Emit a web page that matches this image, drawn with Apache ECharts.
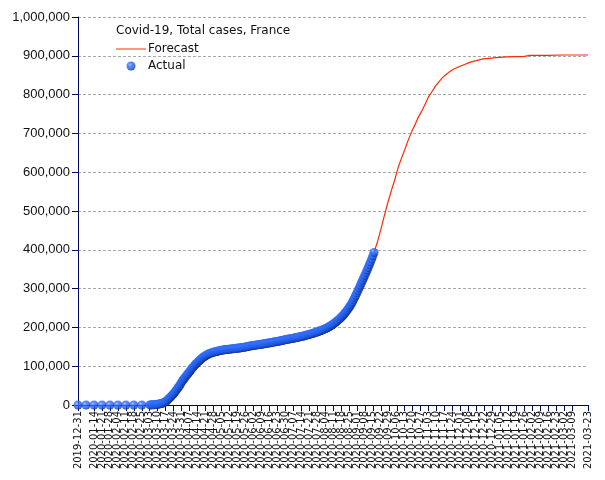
<!DOCTYPE html>
<html><head><meta charset="utf-8">
<script src="https://cdn.jsdelivr.net/npm/echarts@6/dist/echarts.min.js"></script>
<style>html,body{margin:0;padding:0;background:#fff}#c{width:605px;height:480px}</style>
</head><body><div id="c"></div>
<script>
var axisStart = '2019-12-31';
var axisEnd = '2021-03-23';
var yTicks = [0, 100000, 200000, 300000, 400000, 500000, 600000, 700000, 800000, 900000, 1000000];
var titleText = 'Covid-19, Total cases, France';
var seriesNames = ['Forecast', 'Actual'];

var earlyActualDates = ['2019-12-31','2020-01-07','2020-01-14','2020-01-21','2020-01-28','2020-02-04','2020-02-11','2020-02-18','2020-02-25'];
var earlyActualValues = [0,0,0,0,0,0,0,0,0];

var dailyActualStart = '2020-03-03';
var dailyActualValues = [
 200,300,400,600,900,1100,1400,1800,2300,3000,3700,4500,5400,7000,9000,11000,14000,17000,20000,23000,26000,29000,33000,37000,41000,45000,49000,54000,59000,
 63000,67000,71000,75000,79000,82000,86000,90000,94000,97000,101000,104000,107000,110000,113000,116000,118000,121000,123000,125000,127000,129000,130500,132000,133000,134000,135000,136000,137000,137500,
 138000,139000,140000,140500,141000,141500,142000,142500,143000,143300,143600,144000,144300,144600,145000,145300,145600,146000,146300,146600,147000,147500,148000,148400,148800,149300,150000,150500,151000,152000,152500,
 153000,153400,153800,154200,154800,155300,155700,156100,156500,157000,157500,158000,158500,159000,159500,160000,160500,161000,161600,162200,162700,163200,163800,164400,165000,165600,166200,166800,167400,168000,
 168600,169200,169800,170400,171000,171500,172100,172700,173300,173900,174500,175100,175700,176300,177000,177800,178600,179400,180200,181000,181800,182600,183500,184400,185300,186200,187200,188200,189300,190400,191500,
 192600,193800,195000,196300,197700,199200,200800,202500,204300,206200,208200,210300,212500,214900,217400,220000,222700,225600,228600,231800,235200,238800,242600,246600,250800,255200,260000,265400,271000,276800,282800,
 289000,295500,302000,308500,315000,321500,328000,334500,341000,348000,355000,362000,369000,376500,384500,393000
];

var forecastDates = ['2020-09-16','2020-09-19','2020-09-22','2020-09-25','2020-09-28','2020-10-01','2020-10-04','2020-10-07','2020-10-10','2020-10-13','2020-10-16','2020-10-19','2020-10-22','2020-10-25','2020-10-28','2020-10-31','2020-11-03','2020-11-06','2020-11-09','2020-11-12','2020-11-15','2020-11-18','2020-11-21','2020-11-24','2020-11-29','2020-12-04','2020-12-09','2020-12-14','2020-12-21','2020-12-28','2021-01-04','2021-01-11','2021-01-18','2021-01-25','2021-01-31','2021-02-15','2021-03-01','2021-03-23'];
var forecastValues = [393000,420000,452000,487000,520000,550000,578000,610000,635000,658000,682000,704000,722000,742000,758000,776000,795000,808000,822000,833000,843000,851000,858000,864000,871000,877000,883000,887000,892000,894000,896000,897000,898000,898000,901000,901000,902000,902000];

function fmtDate(d){
  var m = d.getUTCMonth()+1, day = d.getUTCDate();
  return d.getUTCFullYear()+'-'+(m<10?'0':'')+m+'-'+(day<10?'0':'')+day;
}
function dateRange(a,b){
  var out=[], d=new Date(a+'T00:00:00Z'), e=new Date(b+'T00:00:00Z');
  while(d<=e){ out.push(fmtDate(d)); d=new Date(d.getTime()+86400000); }
  return out;
}
var categories = dateRange(axisStart, axisEnd);

var actualData = [];
earlyActualDates.forEach(function(d,i){ actualData.push([d, earlyActualValues[i]]); });
var dailyDates = categories.slice(categories.indexOf(dailyActualStart));
dailyActualValues.forEach(function(v,i){ actualData.push([dailyDates[i], v]); });
var forecastData = forecastDates.map(function(d,i){ return [d, forecastValues[i]]; });

function sphere(){
  return new echarts.graphic.RadialGradient(0.38, 0.35, 0.72, [
    {offset:0, color:'#7fb0ff'},
    {offset:0.3, color:'#3270ff'},
    {offset:0.7, color:'#1c55e0'},
    {offset:1, color:'#0a1a66'}
  ]);
}

var chart = echarts.init(document.getElementById('c'), null, {renderer:'canvas'});
chart.setOption({
  animation:false,
  backgroundColor:'#fff',
  grid:{left:78, right:17, top:17, bottom:75, containLabel:false},
  title:{text:titleText, left:111, top:20, textStyle:{fontFamily:'DejaVu Sans', fontSize:12, fontWeight:'normal', color:'#111'}},
  legend:{
    orient:'vertical', left:111, top:38, itemGap:5, itemWidth:30, itemHeight:9,
    textStyle:{fontFamily:'DejaVu Sans', fontSize:12, color:'#111', padding:[0,0,0,-3]},
    data:[
      {name:seriesNames[0], icon:'path://M0,4L30,4L30,5L0,5Z', itemStyle:{color:'#ff2a00'}},
      {name:seriesNames[1], icon:'circle', itemStyle:{color:sphere()}}
    ]
  },
  xAxis:{
    type:'category', data:categories, boundaryGap:false,
    axisLine:{lineStyle:{color:'#000066', width:1}},
    axisTick:{interval:6, length:6, lineStyle:{color:'#000066'}},
    axisLabel:{interval:6, rotate:90, fontFamily:'DejaVu Sans', fontSize:10, color:'#111', margin:6,
      showMinLabel:true, showMaxLabel:true, hideOverlap:false},
    splitLine:{show:false}
  },
  yAxis:{
    type:'value', min:yTicks[0], max:yTicks[yTicks.length-1], interval:yTicks[1]-yTicks[0],
    axisLine:{show:true, lineStyle:{color:'#000066', width:1}},
    axisTick:{show:true, length:6, lineStyle:{color:'#000066'}},
    axisLabel:{fontFamily:'Liberation Sans', fontSize:13, color:'#111', margin:8,
      formatter:function(v){ return v.toString().replace(/\B(?=(\d{3})+(?!\d))/g, ','); }},
    splitLine:{show:true, lineStyle:{color:'#aaa', type:[3,2], width:1}}
  },
  series:[
    {name:seriesNames[0], type:'line', data:forecastData, showSymbol:false, symbol:'none',
     lineStyle:{color:'#ff2a00', width:1.2}, itemStyle:{color:'#ff2a00'}, z:2},
    {name:seriesNames[1], type:'scatter', data:actualData, symbol:'circle', symbolSize:9,
     itemStyle:{color:sphere()}, z:3}
  ]
});
</script></body></html>
